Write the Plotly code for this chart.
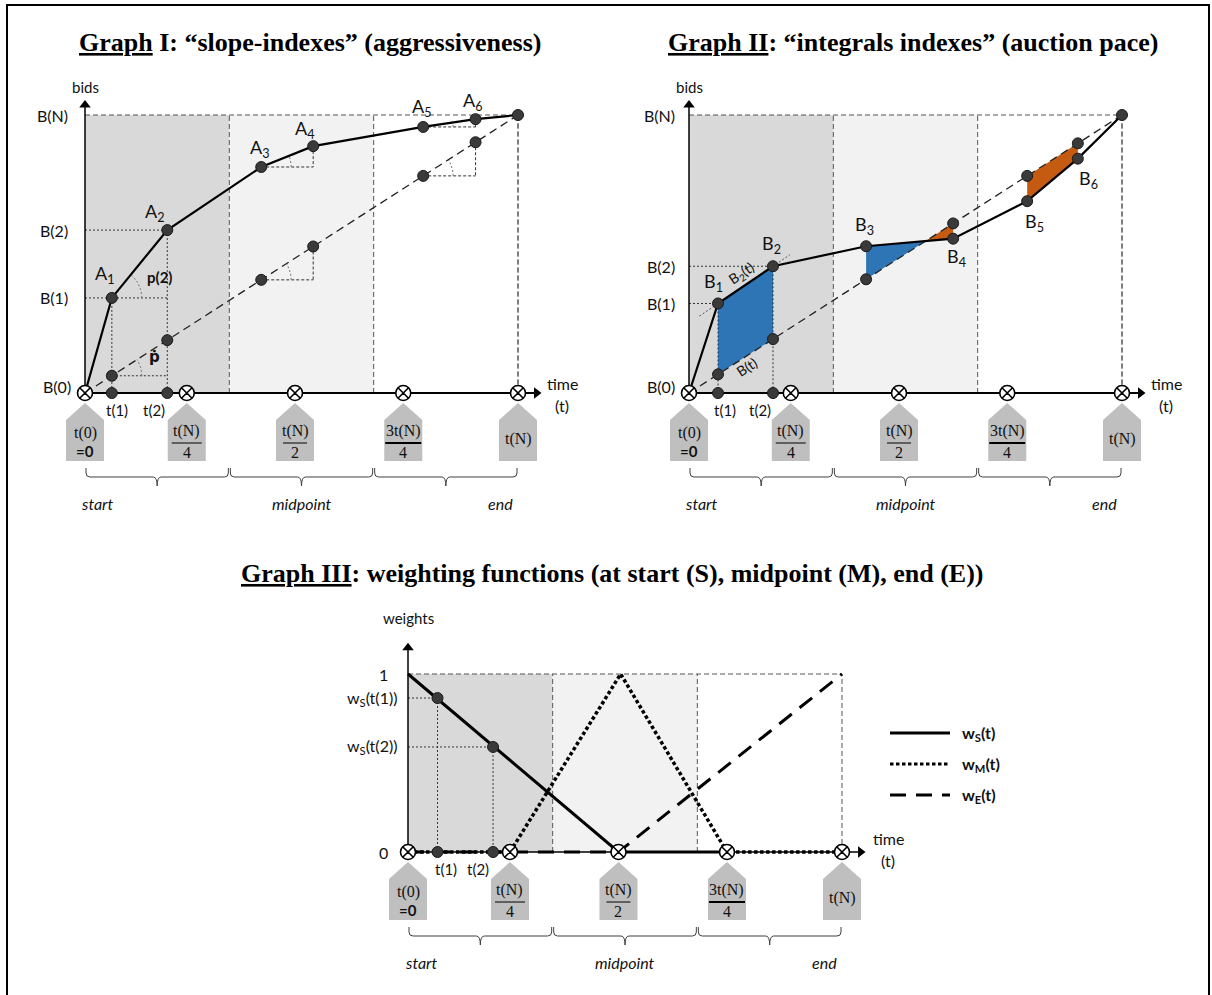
import numpy as np
import plotly.graph_objects as go

FIG_W, FIG_H = 1212, 995

# ---------------- data ----------------
# shared time structure (time as a fraction of t(N))
quarter_t = [0.0, 0.235, 0.485, 0.735, 1.0]
quarter_num = ["t(0)", "t(N)", "t(N)", "3t(N)", "t(N)"]
quarter_den = ["=0", "4", "2", "4", ""]
third_edges = [0.0, 1 / 3, 2 / 3, 1.0]
third_names = ["start", "midpoint", "end"]
third_label_t = [0.03, 0.5, 0.96]

# Graph I: bid path A1..A6 (bids as a fraction of B(N))
g1_t = [0.062, 0.19, 0.407, 0.527, 0.781, 0.902]
g1_b = [0.342, 0.586, 0.813, 0.888, 0.957, 0.985]
g1_names = ["A<sub>1</sub>", "A<sub>2</sub>", "A<sub>3</sub>", "A<sub>4</sub>", "A<sub>5</sub>", "A<sub>6</sub>"]
g1_ylabels = ["B(N)", "B(2)", "B(1)", "B(0)"]

# Graph II: bid path B1..B6
g2_t = [0.067, 0.194, 0.409, 0.61, 0.781, 0.898]
g2_b = [0.322, 0.456, 0.528, 0.555, 0.69, 0.843]
g2_names = ["B<sub>1</sub>", "B<sub>2</sub>", "B<sub>3</sub>", "B<sub>4</sub>", "B<sub>5</sub>", "B<sub>6</sub>"]

# Graph III: weighting functions
ws_t = [0.0, 0.485, 0.735]
ws_w = [1.0, 0.0, 0.0]
wm_t = [0.0, 0.235, 0.49, 0.735, 1.0]
wm_w = [0.0, 0.0, 1.0, 0.0, 0.0]
we_t = [0.0, 0.485, 1.0]
we_w = [0.0, 0.0, 1.0]
g3_pt_t = [0.068, 0.196]
g3_pt_w = [0.865, 0.59]

# ---------------- layout geometry (pixels) ----------------
G = {
    1: dict(x0=85, x1=518, y0=393, y1=115, xa="x", ya="y"),
    2: dict(x0=689, x1=1122, y0=393, y1=115, xa="x2", ya="y2"),
    3: dict(x0=408, x1=842, y0=852, y1=674, xa="x3", ya="y3"),
}
g1_lab_off = [(-7, 23), (-12, 18), (-1, 18), (-8, 17), (-1, 19), (-3, 18)]
g2_lab_off = [(-5, 21), (-2, 22), (-2, 21), (3, -19), (7, -21), (11, -21)]

SANS = "Lato"
SERIF = "Liberation Serif"
DARK = "#3a3a3a"
BLUE = "#2E75B6"
ORANGE = "#C55A11"


def sx(g):
    return G[g]["x1"] - G[g]["x0"]


def sy(g):
    return G[g]["y0"] - G[g]["y1"]


def px2t(g, px):
    return (px - G[g]["x0"]) / sx(g)


def py2b(g, py):
    return (G[g]["y0"] - py) / sy(g)


def dx(g, d):
    return d / sx(g)


def dy(g, d):
    return d / sy(g)


fig = go.Figure()
shapes = []
annots = []


def seg(g, x0, y0, x1, y1, color="#333", width=1, dash="solid", layer="below"):
    shapes.append(dict(type="line", xref=G[g]["xa"], yref=G[g]["ya"], x0=x0, y0=y0, x1=x1, y1=y1,
                       line=dict(color=color, width=width, dash=dash), layer=layer))


def rect(g, x0, y0, x1, y1, fill):
    shapes.append(dict(type="rect", xref=G[g]["xa"], yref=G[g]["ya"], x0=x0, y0=y0, x1=x1, y1=y1,
                       fillcolor=fill, line=dict(width=0), layer="below"))


def poly(g, pts, fill):
    path = "M " + " L ".join(f"{x},{y}" for x, y in pts) + " Z"
    shapes.append(dict(type="path", xref=G[g]["xa"], yref=G[g]["ya"], path=path,
                       fillcolor=fill, line=dict(width=0), layer="below"))


def text(g, x, y, s, size=16, family=SANS, color="#111", xanchor="center", yanchor="middle", angle=0):
    annots.append(dict(x=x, y=y, xref=G[g]["xa"], yref=G[g]["ya"], text=s, showarrow=False,
                       font=dict(family=family, size=size, color=color), xanchor=xanchor,
                       yanchor=yanchor, textangle=angle))


def line_trace(g, xs, ys, color="black", width=2, dash="solid"):
    fig.add_trace(go.Scatter(x=xs, y=ys, mode="lines", line=dict(color=color, width=width, dash=dash),
                             xaxis=G[g]["xa"], yaxis=G[g]["ya"], hoverinfo="skip", showlegend=False))


def marker_trace(g, xs, ys, symbol, size, color, lcolor, lwidth):
    fig.add_trace(go.Scatter(x=xs, y=ys, mode="markers",
                             marker=dict(symbol=symbol, size=size, color=color,
                                         line=dict(color=lcolor, width=lwidth)),
                             xaxis=G[g]["xa"], yaxis=G[g]["ya"], hoverinfo="skip", showlegend=False))


def dots(g, xs, ys, size=11):
    marker_trace(g, xs, ys, "circle", size, DARK, "#1a1a1a", 1)


def xmarks(g):
    marker_trace(g, quarter_t, [0] * len(quarter_t), "circle-x", 15, "white", "black", 1.6)


def regions(g):
    rect(g, third_edges[0], 0, third_edges[1], 1, "#D9D9D9")
    rect(g, third_edges[1], 0, third_edges[2], 1, "#F2F2F2")
    for e in third_edges[1:]:
        seg(g, e, 0, e, 1, color="#555", width=1, dash="5px,3px")
    seg(g, 0, 1, 1, 1, color="#555", width=1, dash="5px,3px")


def time_axis(g, xtip, ytip, xw=2.0, yw=1.5):
    seg(g, 0, 0, xtip - dx(g, 6), 0, color="black", width=xw)
    seg(g, 0, 0, 0, ytip - dy(g, 6), color="black", width=yw)
    marker_trace(g, [xtip - dx(g, 4)], [0], "triangle-right", 10, "black", "black", 0)
    marker_trace(g, [0], [ytip - dy(g, 4)], "triangle-up", 10, "black", "black", 0)


def pentagons_and_braces(g):
    hw = dx(g, 19)
    tip, sh, bot = -dy(g, 10), -dy(g, 27), -dy(g, 68)
    for t in quarter_t:
        poly(g, [(t, tip), (t + hw, sh), (t + hw, bot), (t - hw, bot), (t - hw, sh)], "#BFBFBF")
    for t, num, den in zip(quarter_t, quarter_num, quarter_den):
        if den == "":
            text(g, t, -dy(g, 46), num, size=16, family=SERIF)
        elif den == "=0":
            text(g, t, -dy(g, 40), num, size=16, family=SERIF)
            text(g, t, -dy(g, 58), "<b>=0</b>", size=15, family=SANS)
        else:
            text(g, t, -dy(g, 38), num, size=16, family=SERIF)
            thick = num.startswith("3")
            half = dx(g, 18 if thick else (12 if den == "2" else 15))
            seg(g, t - half, -dy(g, 50), t + half, -dy(g, 50), color="black", width=2.2 if thick else 1)
            text(g, t, -dy(g, 59), den, size=16, family=SERIF)
    # braces
    ytop, ymid, ybot = -dy(g, 75), -dy(g, 84), -dy(g, 93)
    r = dx(g, 4)
    ry = dy(g, 4)
    for a, b in zip(third_edges[:-1], third_edges[1:]):
        a2, b2 = a + dx(g, 1), b - dx(g, 1)
        m = (a + b) / 2
        path = (f"M {a2},{ytop} L {a2},{ymid + ry} Q {a2},{ymid} {a2 + r},{ymid} L {m - r},{ymid} "
                f"Q {m},{ymid} {m},{ybot} Q {m},{ymid} {m + r},{ymid} L {b2 - r},{ymid} "
                f"Q {b2},{ymid} {b2},{ymid + ry} L {b2},{ytop}")
        shapes.append(dict(type="path", xref=G[g]["xa"], yref=G[g]["ya"], path=path,
                           line=dict(color="#404040", width=1), layer="below"))
    for t, nm in zip(third_label_t, third_names):
        text(g, t, -dy(g, 110), f"<i>{nm}</i>", size=16)


def arc(g, ct, cb, et, eb, radius=30):
    ang = np.arctan2((eb - cb) * sy(g), (et - ct) * sx(g))
    th = np.linspace(0, ang, 20)
    line_trace(g, ct + dx(g, radius) * np.cos(th), cb + dy(g, radius) * np.sin(th),
               color="#777", width=1, dash="2px,2px")


DOT = "2px,2px"

# ======================= Graph I =======================
g = 1
regions(g)
pentagons_and_braces(g)
t1, t2 = g1_t[0], g1_t[1]
b1, b2 = g1_b[0], g1_b[1]
seg(g, 0, b1, t2, b1, dash=DOT)
seg(g, 0, b2, t2, b2, dash=DOT)
seg(g, t1, b1, t1, 0, dash=DOT)
seg(g, t2, b2, t2, 0, dash=DOT)
seg(g, t1, t1, t2, t1, dash=DOT)
for i, j in [(2, 3), (4, 5)]:
    seg(g, g1_t[i], g1_b[i], g1_t[j], g1_b[i], dash="3px,2px")
    seg(g, g1_t[j], g1_b[j], g1_t[j], g1_b[i], dash="3px,2px")
    seg(g, g1_t[i], g1_t[i], g1_t[j], g1_t[i], dash="3px,2px")
    seg(g, g1_t[j], g1_t[j], g1_t[j], g1_t[i], dash="3px,2px")
seg(g, 1, 1, 1, 0, color="#555", dash="5px,3px")
time_axis(g, 1.052, 1.05)
for i, j in [(0, 1), (2, 3), (4, 5)]:
    arc(g, g1_t[i], g1_b[i], g1_t[j], g1_b[j])
    arc(g, g1_t[i], g1_t[i], g1_t[j], g1_t[j])
line_trace(g, [0, 1], [0, 1], color="#222", width=1.3, dash="8px,5px")
line_trace(g, [0] + g1_t + [1], [0] + g1_b + [1], color="black", width=2.2)
dots(g, g1_t + [1], g1_b + [1])
dots(g, g1_t, g1_t)
dots(g, [t1, t2], [0, 0])
xmarks(g)
for (t, b, nm, (ox, oy)) in zip(g1_t, g1_b, g1_names, g1_lab_off):
    text(g, t + dx(g, ox), b + dy(g, oy), nm, size=18)
text(g, 0.172, 0.419, "<b>p(2)</b>", size=15)
text(g, 0.161, 0.128, "<b>ṗ</b>", size=15, family="DejaVu Sans")
for lab, yv in zip(g1_ylabels, [1.0, b2, b1, dy(g, 7)]):
    text(g, -dx(g, 15 if lab != "B(0)" else 12), yv, lab, size=16, xanchor="right")
text(g, 0, dy(g, 306), "bids", size=15)
text(g, 1.102, dy(g, 10), "time", size=16)
text(g, 1.102, -dy(g, 12), "(t)", size=16)
text(g, t1 + dx(g, 5), -dy(g, 17), "t(1)", size=15)
text(g, t2 - dx(g, 13), -dy(g, 17), "t(2)", size=15)

# ======================= Graph II =======================
g = 2
regions(g)
pentagons_and_braces(g)
t1, t2 = g2_t[0], g2_t[1]
b1, b2 = g2_b[0], g2_b[1]
# integral areas
poly(g, [(t1, b1), (t2, b2), (t2, t2), (t1, t1)], BLUE)
slope34 = (g2_b[3] - g2_b[2]) / (g2_t[3] - g2_t[2])
ti = (g2_b[2] - slope34 * g2_t[2]) / (1 - slope34)
poly(g, [(g2_t[2], g2_b[2]), (ti, ti), (g2_t[2], g2_t[2])], BLUE)
poly(g, [(ti, ti), (g2_t[3], g2_b[3]), (g2_t[3], g2_t[3])], ORANGE)
poly(g, [(g2_t[4], g2_t[4]), (g2_t[5], g2_t[5]), (g2_t[5], g2_b[5]), (g2_t[4], g2_b[4])], ORANGE)
seg(g, 0, b1, t1, b1, dash=DOT)
seg(g, 0, b2, t2, b2, dash=DOT)
seg(g, t1, b1, t1, 0, dash=DOT)
seg(g, t2, b2, t2, 0, dash=DOT)
slope12 = (b2 - b1) / (t2 - t1)
ta, tb = 0.024, 0.233
seg(g, ta, b1 + slope12 * (ta - t1), tb, b1 + slope12 * (tb - t1), color="#555", dash=DOT)
seg(g, 1, 1, 1, 0, color="#555", dash="5px,3px")
time_axis(g, 1.052, 1.05)
line_trace(g, [0, 1], [0, 1], color="#222", width=1.3, dash="8px,5px")
line_trace(g, [0] + g2_t + [1], [0] + g2_b + [1], color="black", width=2.2)
dots(g, g2_t + [1], g2_b + [1])
dots(g, g2_t, g2_t)
dots(g, [t1, t2], [0, 0])
xmarks(g)
for (t, b, nm, (ox, oy)) in zip(g2_t, g2_b, g2_names, g2_lab_off):
    text(g, t + dx(g, ox), b + dy(g, oy), nm, size=18)
text(g, 0.122, 0.431, "B<sub>2</sub>(t)", size=14, angle=-34)
text(g, 0.135, 0.095, "B(t)", size=14, angle=-33)
for lab, yv in zip(g1_ylabels, [1.0, b2, b1, dy(g, 7)]):
    text(g, -dx(g, 12), yv, lab, size=16, xanchor="right")
text(g, 0, dy(g, 306), "bids", size=15)
text(g, 1.102, dy(g, 10), "time", size=16)
text(g, 1.102, -dy(g, 12), "(t)", size=16)
text(g, t1 + dx(g, 7), -dy(g, 17), "t(1)", size=15)
text(g, t2 - dx(g, 13), -dy(g, 17), "t(2)", size=15)

# ======================= Graph III =======================
g = 3
regions(g)
pentagons_and_braces(g)
for t, w in zip(g3_pt_t, g3_pt_w):
    seg(g, 0, w, t, w, dash=DOT)
    seg(g, t, w, t, 0, dash=DOT)
time_axis(g, 1.052, 1.17, xw=1.5)
line_trace(g, we_t, we_w, color="black", width=3, dash="16px,10px")
line_trace(g, ws_t, ws_w, color="black", width=3)
line_trace(g, wm_t, wm_w, color="black", width=3.5, dash="3.5px,2.5px")
dots(g, g3_pt_t, g3_pt_w)
dots(g, g3_pt_t, [0, 0])
xmarks(g)
text(g, -dx(g, 18), 1.0, "1", size=16, xanchor="right")
text(g, -dx(g, 18), 0.0, "0", size=16, xanchor="right")
text(g, -dx(g, 9), g3_pt_w[0], "w<sub>S</sub>(t(1))", size=16, xanchor="right")
text(g, -dx(g, 9), g3_pt_w[1], "w<sub>S</sub>(t(2))", size=16, xanchor="right")
text(g, 0, py2b(g, 618), "weights", size=15)
text(g, px2t(g, 888), py2b(g, 838), "time", size=16)
text(g, px2t(g, 888), py2b(g, 860), "(t)", size=16)
text(g, g3_pt_t[0] + dx(g, 8), -dy(g, 17), "t(1)", size=15)
text(g, g3_pt_t[1] - dx(g, 15), -dy(g, 17), "t(2)", size=15)
# legend
leg_names = ["w<sub>S</sub>(t)", "w<sub>M</sub>(t)", "w<sub>E</sub>(t)"]
leg_dash = ["solid", "3.5px,2.5px", "16px,10px"]
for k, (nm, ds) in enumerate(zip(leg_names, leg_dash)):
    yy = py2b(g, 733 + 31 * k)
    line_trace(g, [px2t(g, 890), px2t(g, 950)], [yy, yy], color="black", width=3.2, dash=ds)
    text(g, px2t(g, 960), yy, f"<b>{nm}</b>", size=16, xanchor="left")

# ---------------- titles & frame ----------------
titles = [
    (310, 42, "<b><u>Graph</u> I: “slope-indexes” (aggressiveness)</b>"),
    (913, 42, "<b><u>Graph II</u>: “integrals indexes” (auction pace)</b>"),
    (612, 573, "<b><u>Graph III</u>: weighting functions (at start (S), midpoint (M), end (E))</b>"),
]
for tx, ty, tt in titles:
    annots.append(dict(x=tx / FIG_W, y=1 - ty / FIG_H, xref="paper", yref="paper", showarrow=False,
                       text=tt, xanchor="center", yanchor="middle",
                       font=dict(family=SERIF, size=26, color="black")))
shapes.append(dict(type="rect", xref="paper", yref="paper", x0=7 / FIG_W, x1=1209 / FIG_W,
                   y0=-0.05, y1=1 - 5 / FIG_H, line=dict(color="black", width=2), layer="above"))

layout = dict(width=FIG_W, height=FIG_H, margin=dict(l=0, r=0, t=0, b=0),
              paper_bgcolor="white", plot_bgcolor="rgba(0,0,0,0)", showlegend=False,
              shapes=shapes, annotations=annots)
for gi, suf in [(1, ""), (2, "2"), (3, "3")]:
    layout[f"xaxis{suf}"] = dict(domain=[0, 1], range=[px2t(gi, 0), px2t(gi, FIG_W)], visible=False,
                                 anchor=f"y{suf}", fixedrange=True)
    layout[f"yaxis{suf}"] = dict(domain=[0, 1], range=[py2b(gi, FIG_H), py2b(gi, 0)], visible=False,
                                 anchor=f"x{suf}", fixedrange=True)
fig.update_layout(**layout)
fig.write_html("out.html", config={"displayModeBar": False},
               post_script="document.body.style.margin='0';document.body.style.overflow='hidden';")
